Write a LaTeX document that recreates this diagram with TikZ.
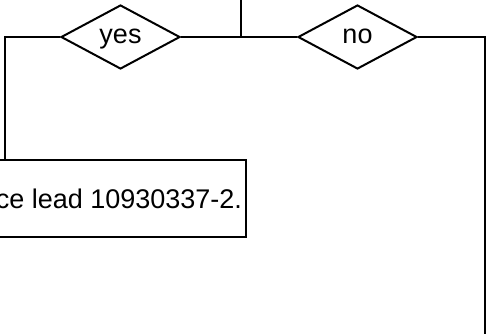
\documentclass[tikz,border=0pt]{standalone}
\usepackage{fontspec}
\setmainfont{Liberation Sans}
\usetikzlibrary{shapes.geometric}
\begin{document}
\begin{tikzpicture}[x=1pt,y=-1pt,
  line width=2pt,
  txt/.style={font=\fontsize{27}{32}\selectfont},
  decision/.style={diamond,draw,txt,inner sep=0pt,aspect=1.86,text height=14pt,text depth=1pt,minimum width=119pt,minimum height=64pt},
  procbox/.style={rectangle,draw,txt,inner xsep=4pt,minimum height=77pt,anchor=east}]
\useasboundingbox (0,0) rectangle (490,333);
\node[decision] (yes) at (120.5,37) {yes};
\node[decision] (no) at (357.5,37) {no};
\node[procbox] (box) at (247,198.5) {ce lead 10930337-2.};
\coordinate (top) at (241,-2);
\coordinate (j) at (241,37);
\coordinate (cl) at (5,37);
\coordinate (cr) at (485,37);
\coordinate (bot) at (485,336);
\draw (top) -- (j);
\draw (yes.east) -- (no.west);
\draw (yes.west) -- (cl) -- (cl |- box.north);
\draw (no.east) -- (cr) -- (bot);
\end{tikzpicture}
\end{document}
